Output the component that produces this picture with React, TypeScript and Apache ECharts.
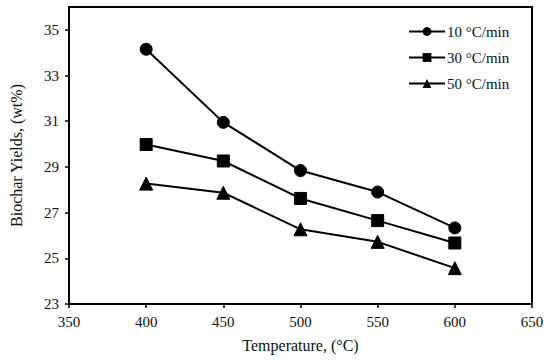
import React, { useEffect, useRef } from "react";
import * as echarts from "echarts";

const temperatures = [400, 450, 500, 550, 600];
const rate10 = [34.15, 30.95, 28.84, 27.9, 26.33];
const rate30 = [29.98, 29.26, 27.62, 26.65, 25.67];
const rate50 = [28.27, 27.87, 26.27, 25.72, 24.57];
const seriesNames = ["10 °C/min", "30 °C/min", "50 °C/min"];
const symbols = ["circle", "rect", "triangle"];

const FONT = "Liberation Serif, Times New Roman, serif";

export default function App() {
  const ref = useRef<HTMLDivElement>(null);
  useEffect(() => {
    if (!ref.current) return;
    const chart = echarts.init(ref.current, undefined, { renderer: "svg" });
    const datasets = [rate10, rate30, rate50];
    chart.setOption({
      animation: false,
      backgroundColor: "#fff",
      textStyle: { fontFamily: FONT },
      grid: {
        left: 62,
        right: 18,
        top: 7,
        bottom: 56,
        show: true,
        borderColor: "#000",
        borderWidth: 2,
        backgroundColor: "transparent",
      },
      legend: {
        orient: "vertical",
        left: 403,
        top: 19,
        itemWidth: 36,
        itemHeight: 11,
        itemGap: 11,
        data: seriesNames,
        textStyle: { fontFamily: FONT, fontSize: 15, color: "#111", padding: [0, 0, 0, -3] },
      },
      xAxis: {
        type: "value",
        min: 350,
        max: 650,
        interval: 50,
        name: "Temperature, (°C)",
        nameLocation: "middle",
        nameGap: 33,
        nameTextStyle: { fontFamily: FONT, fontSize: 16, color: "#111" },
        axisLine: { lineStyle: { color: "#000", width: 2 } },
        axisTick: { show: true, length: 4, lineStyle: { color: "#000", width: 1.5 } },
        axisLabel: { fontFamily: FONT, fontSize: 15, color: "#111", margin: 10 },
        splitLine: { show: false },
      },
      yAxis: {
        type: "value",
        min: 23,
        max: 36,
        interval: 2,
        name: "Biochar Yields, (wt%)",
        nameLocation: "middle",
        nameGap: 45,
        nameTextStyle: { fontFamily: FONT, fontSize: 16, color: "#111" },
        axisLine: { lineStyle: { color: "#000", width: 2 } },
        axisTick: { show: true, length: 4, lineStyle: { color: "#000", width: 1.5 } },
        axisLabel: { fontFamily: FONT, fontSize: 15, color: "#111", margin: 10, showMaxLabel: false },
        splitLine: { show: false },
      },
      series: datasets.map((d, i) => ({
        name: seriesNames[i],
        type: "line",
        data: temperatures.map((t, j) => [t, d[j]]),
        symbol: symbols[i],
        symbolSize: i === 2 ? 13 : 12,
        lineStyle: { color: "#000", width: 2 },
        itemStyle: { color: "#000", borderColor: "#000" },
        emphasis: { disabled: true },
      })),
    });
    return () => chart.dispose();
  }, []);
  return (
    <div
      ref={ref}
      style={{ position: "fixed", left: 0, top: 0, width: 550, height: 360 }}
    />
  );
}
